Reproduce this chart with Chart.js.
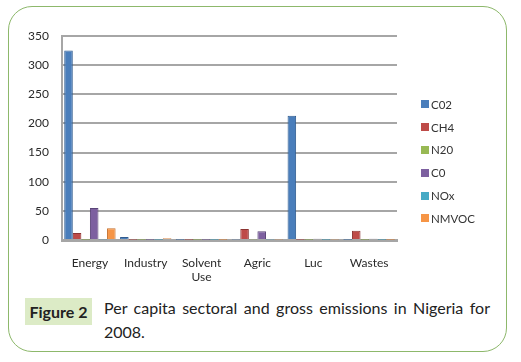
<!DOCTYPE html>
<html>
<head>
<meta charset="utf-8">
<script src="https://cdn.jsdelivr.net/npm/chart.js@4"></script>
<style>
  body { margin: 0; background: #fff; font-family: Lato, "Open Sans", sans-serif; }
  #wrap { position: relative; width: 521px; height: 362px; }
  #card { position: absolute; left: 8px; top: 6px; width: 497px; height: 344px;
          border: 1.5px solid #8db86b; border-radius: 24px; }
  #chartBox { position: absolute; left: 0; top: 0; width: 521px; height: 290px; }
  #legend { position: absolute; left: 421px; top: 93px; font-size: 11.5px; color: #333; }
  #legend div { height: 22.8px; display: flex; align-items: center; }
  #legend span { display: inline-block; width: 8px; height: 8px; margin-right: 2px; }
  #figTag { position: absolute; left: 25px; top: 298px; width: 67px; height: 27px;
            background: #dcebc6; font-weight: bold; font-size: 16px; color: #222;
            display: flex; align-items: center; justify-content: center; }
  #caption { position: absolute; left: 104px; top: 296px; width: 386px; font-size: 16px;
             line-height: 24px; color: #222; text-align: justify; }
</style>
</head>
<body>
<div id="wrap">
  <div id="card"></div>
  <div id="chartBox"><canvas id="emChart"></canvas></div>
  <div id="legend"></div>
  <div id="figTag">Figure 2</div>
  <div id="caption">Per capita sectoral and gross emissions in Nigeria for 2008.</div>
</div>
<script>
const sectors = ['Energy', 'Industry', ['Solvent', 'Use'], 'Agric', 'Luc', 'Wastes'];
const gasNames = ['C02', 'CH4', 'N20', 'C0', 'NOx', 'NMVOC'];
const gasColors = ['#4a7ebb', '#be4b48', '#98b954', '#7d60a0', '#46aac5', '#f69546'];
const gasBorders = ['#2f5b8f', '#8c3331', '#6f8a3a', '#5a4478', '#2f8199', '#c46f2c'];
const co2 = [325, 5, 0.5, 1, 213, 0.5];
const ch4 = [12, 0.5, 0.5, 19, 0.5, 16];
const n2o = [0.5, 0.5, 0.5, 1, 0.5, 0.5];
const co = [55, 0.5, 0.5, 15, 2, 2];
const nox = [1, 0.5, 0.5, 1, 0.5, 0.5];
const nmvoc = [20, 3, 0.5, 1, 1, 0.5];
const yTicks = [0, 50, 100, 150, 200, 250, 300, 350];

const seriesValues = [co2, ch4, n2o, co, nox, nmvoc];

document.addEventListener('DOMContentLoaded', function () {
    const ctx = document.getElementById('emChart');

    // Legend built from the same arrays
    const legend = document.getElementById('legend');
    gasNames.forEach((name, i) => {
        const row = document.createElement('div');
        row.innerHTML = '<span style="background:' + gasColors[i] + '"></span>' + name;
        legend.appendChild(row);
    });

    new Chart(ctx, {
        type: 'bar',
        data: {
            labels: sectors,
            datasets: gasNames.map((name, i) => ({
                label: name,
                data: seriesValues[i],
                backgroundColor: gasColors[i],
                borderColor: gasBorders[i],
                borderWidth: 1
            }))
        },
        options: {
            responsive: true,
            maintainAspectRatio: false,
            animation: false,
            layout: { padding: { left: 0, right: 124, top: 36, bottom: 0 } },
            datasets: { bar: { categoryPercentage: 0.92, barPercentage: 1 } },
            plugins: {
                legend: { display: false },
                tooltip: { enabled: false }
            },
            scales: {
                y: {
                    min: 0,
                    max: 350,
                    afterFit: function (s) { s.width = 62; },
                    afterBuildTicks: function (s) { s.ticks = yTicks.map(v => ({ value: v })); },
                    grid: { color: '#a6a6a6', lineWidth: 2, drawTicks: false },
                    border: { color: '#a6a6a6', width: 2 },
                    ticks: {
                        color: '#2a2a2a',
                        padding: 13,
                        font: { family: 'Lato', size: 12 }
                    }
                },
                x: {
                    afterFit: function (s) { s.height = 50; },
                    grid: { display: false },
                    border: { color: '#a6a6a6', width: 3 },
                    ticks: {
                        color: '#2a2a2a',
                        padding: 8,
                        maxRotation: 0,
                        autoSkip: false,
                        font: { family: 'Lato', size: 12 }
                    }
                }
            }
        }
    });
});
</script>
</body>
</html>
